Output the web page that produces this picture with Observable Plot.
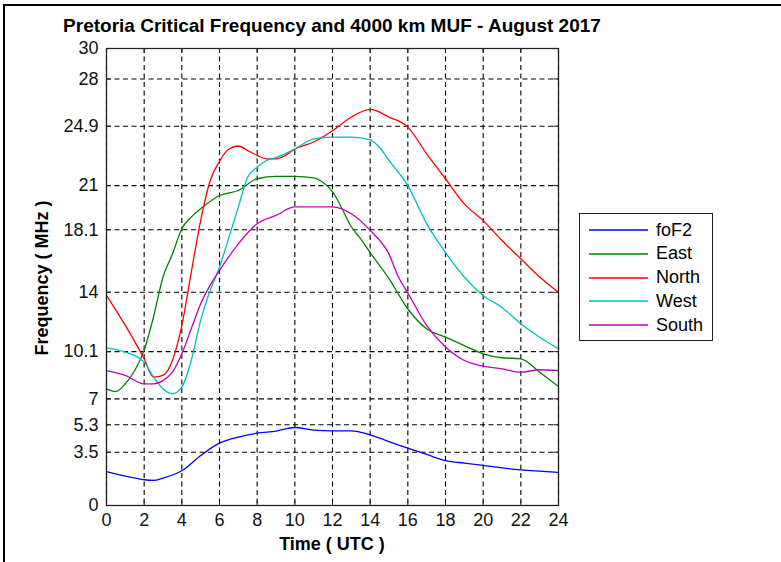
<!DOCTYPE html>
<html>
<head>
<meta charset="utf-8">
<script src="https://cdn.jsdelivr.net/npm/d3@7"></script>
<script src="https://cdn.jsdelivr.net/npm/@observablehq/plot@0.6"></script>
<style>
  body { margin: 0; background: #fff; }
  #wrap { position: relative; width: 781px; height: 562px; overflow: hidden; font-family: "Liberation Sans", Arial, sans-serif; color: #000; }
  #border { position: absolute; left: 3px; top: 4px; width: 790px; height: 570px; border-top: 2px solid #000; border-left: 2px solid #000; }
  #chart { position: absolute; left: 0; top: 0; }
  #title { position: absolute; left: 0; width: 664px; top: 15px; text-align: center; font-weight: bold; font-size: 19px; white-space: nowrap; }
  #xlabel { position: absolute; left: 0; width: 664px; top: 534px; text-align: center; font-weight: bold; font-size: 18px; white-space: nowrap; }
  #ylabel { position: absolute; left: -58px; top: 267px; width: 200px; line-height: 22px; text-align: center; font-weight: bold; font-size: 18px; transform: rotate(-90deg); white-space: nowrap; }
  #legend { position: absolute; left: 579px; top: 213px; width: 134px; height: 128px; box-sizing: border-box; border: 1px solid #222; background: #fff; }
  .row { position: absolute; left: 0; height: 24px; display: flex; align-items: center; font-size: 18px; }
  .row svg { margin-left: 9px; margin-right: 8px; }
  .narrow { font-family: "Liberation Sans Narrow", "Liberation Sans", Arial, sans-serif; }
</style>
</head>
<body>
<div id="wrap">
  <div id="border"></div>
  <div id="chart"></div>
  <div id="title">Pretoria Critical Frequency and 4000 km MUF - August 2017</div>
  <div id="xlabel">Time ( UTC )</div>
  <div id="ylabel">Frequency ( MHz )</div>
  <div id="legend"></div>
</div>
<script>
// ---- data ----
const seriesNames = ["foF2", "East", "North", "West", "South"];
const seriesColors = ["#0000ff", "#008000", "#ff0000", "#00bfbf", "#bf00bf"];

const xTicks = [0, 2, 4, 6, 8, 10, 12, 14, 16, 18, 20, 22, 24];
const yTicks = [0, 3.5, 5.3, 7, 10.1, 14, 18.1, 21, 24.9, 28, 30];

const tFoF2 = [0, 1, 2, 2.5, 3, 4, 5, 6, 7, 8, 9, 10, 11, 12, 13, 14, 15, 16, 17, 18, 19, 20, 21, 22, 23, 24];
const vFoF2 = [2.23, 1.93, 1.69, 1.65, 1.8, 2.28, 3.28, 4.09, 4.49, 4.75, 4.88, 5.12, 4.95, 4.9, 4.9, 4.64, 4.2, 3.76, 3.35, 2.95, 2.78, 2.63, 2.47, 2.34, 2.25, 2.17];

const tEast = [0, 0.5, 1, 1.5, 2, 2.5, 3, 3.5, 4, 4.5, 5, 6, 7, 8, 9, 10, 11, 11.5, 12, 12.5, 13, 13.5, 14, 15, 16, 17, 18, 19, 20, 21, 22, 23, 24];
const vEast = [7.66, 7.48, 7.99, 8.86, 10.2, 12.4, 15.0, 16.5, 18.17, 18.93, 19.48, 20.35, 20.68, 21.45, 21.6, 21.6, 21.5, 21.2, 20.6, 19.5, 18.3, 17.5, 16.6, 14.9, 12.9, 11.6, 11.05, 10.5, 9.96, 9.7, 9.63, 8.75, 7.81];

const tNorth = [0, 1, 2, 2.5, 3, 3.5, 4, 4.5, 5, 5.5, 6, 6.5, 7, 7.5, 8, 8.5, 9, 9.5, 10, 11, 12, 13, 14, 15, 16, 17, 18, 19, 20, 21, 22, 23, 24];
const vNorth = [13.8, 11.82, 9.63, 8.43, 8.54, 9.52, 11.82, 15.3, 18.7, 21.3, 22.6, 23.4, 23.6, 23.3, 22.98, 22.76, 22.76, 22.98, 23.4, 23.86, 24.6, 25.5, 26.0, 25.5, 24.84, 23.09, 21.45, 19.8, 18.7, 17.4, 16.2, 15.0, 14.0];

const tWest = [0, 1, 2, 2.5, 3, 3.5, 4, 4.5, 5, 5.5, 6, 6.5, 7, 7.5, 8, 8.5, 9, 10, 11, 12, 13, 14, 14.5, 15, 16, 17, 18, 19, 20, 21, 22, 23, 24];
const vWest = [10.35, 10.07, 9.41, 8.43, 7.66, 7.33, 7.77, 9.52, 12.15, 14.1, 15.65, 17.6, 19.6, 21.56, 22.2, 22.65, 22.83, 23.4, 24.07, 24.18, 24.18, 24.0, 23.5, 22.65, 21.0, 18.5, 16.6, 15.0, 13.79, 13.0, 11.93, 11.05, 10.29];

const tSouth = [0, 1, 2, 2.5, 3, 3.5, 4, 4.5, 5, 5.5, 6, 7, 8, 9, 10, 11, 12, 13, 14, 15, 15.5, 16, 17, 18, 19, 20, 21, 22, 23, 24];
const vSouth = [8.86, 8.54, 7.99, 7.99, 8.2, 8.75, 9.96, 11.6, 13.24, 14.45, 15.43, 17.18, 18.5, 19.04, 19.6, 19.6, 19.6, 19.15, 18.06, 16.5, 15.0, 13.95, 11.82, 10.4, 9.52, 9.15, 8.97, 8.75, 8.91, 8.86];

// ---- build table ----
const seriesT = [tFoF2, tEast, tNorth, tWest, tSouth];
const seriesV = [vFoF2, vEast, vNorth, vWest, vSouth];
const rows = seriesNames.flatMap((name, k) =>
  seriesT[k].map((t, i) => ({ series: name, t, v: seriesV[k][i] })));

const tickLenY = 0.3;   // inward tick length in MHz units
const tickLenX = 0.25;  // inward tick length in hour units
const narrowFont = "Liberation Sans Narrow, Liberation Sans, Arial, sans-serif";

const chart = Plot.plot({
  width: 781,
  height: 562,
  marginLeft: 106,
  marginRight: 223,
  marginTop: 48,
  marginBottom: 57,
  style: { fontFamily: "Liberation Sans, Arial, sans-serif", fontSize: "15px", background: "transparent", overflow: "visible" },
  x: { domain: [0, 24], ticks: xTicks, label: null },
  y: { domain: [0, 30], ticks: yTicks, label: null },
  color: { domain: seriesNames, range: seriesColors },
  marks: [
    Plot.gridX(xTicks, { stroke: "#000", strokeOpacity: 1, strokeWidth: 1.1, strokeDasharray: "5,3.5" }),
    Plot.gridY(yTicks, { stroke: "#000", strokeOpacity: 1, strokeWidth: 1.1, strokeDasharray: "5,3.5" }),
    Plot.line(rows, { x: "t", y: "v", z: "series", stroke: "series", strokeWidth: 1.3, curve: "monotone-x" }),
    Plot.ruleX(xTicks, { x: d => d, y1: 0, y2: tickLenY, stroke: "#222" }),
    Plot.ruleX(xTicks, { x: d => d, y1: 30, y2: 30 - tickLenY, stroke: "#222" }),
    Plot.ruleY(yTicks, { y: d => d, x1: 0, x2: tickLenX, stroke: "#222" }),
    Plot.ruleY(yTicks, { y: d => d, x1: 24, x2: 24 - tickLenX, stroke: "#222" }),
    Plot.frame({ stroke: "#222", strokeWidth: 1.3 }),
    Plot.axisX(xTicks, { tickSize: 0, tickPadding: 8, fontSize: 18, fontFamily: narrowFont, fill: "#111", label: null }),
    Plot.axisY(yTicks, { tickSize: 0, tickPadding: 8, fontSize: 18, fontFamily: narrowFont, fill: "#111", label: null, tickFormat: d => String(d) })
  ]
});
document.getElementById("chart").appendChild(chart);

// ---- legend ----
const legend = document.getElementById("legend");
seriesNames.forEach((name, i) => {
  const row = document.createElement("div");
  row.className = "row";
  row.style.top = (4 + i * 23.8) + "px";
  row.innerHTML = `<svg width="59" height="4"><line x1="0" x2="59" y1="2" y2="2" stroke="${seriesColors[i]}" stroke-width="1.3"/></svg><span>${name}</span>`;
  legend.appendChild(row);
});
</script>
</body>
</html>
